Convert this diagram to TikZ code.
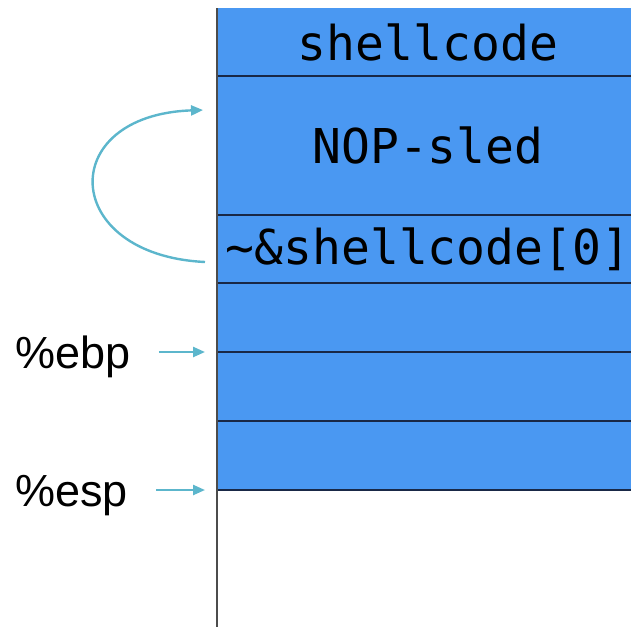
\documentclass[tikz,border=0pt]{standalone}
\usepackage{fontspec}
\setmainfont{Liberation Sans}
\newfontfamily\stackfont{DejaVu Sans Mono}
\usetikzlibrary{arrows.meta, positioning}

\definecolor{stackblue}{RGB}{74,152,242}
\definecolor{ptrcyan}{RGB}{92,182,204}
\definecolor{sepline}{RGB}{25,40,70}

\begin{document}
\begin{tikzpicture}[
    x=0.5pt, y=-0.5pt,
    node distance=0pt,
    cell/.style={rectangle, fill=stackblue, inner sep=0pt, outer sep=0pt, minimum width=211pt, font=\stackfont\fontsize{24}{24}\selectfont},
    sep/.style={draw=sepline, line width=1pt},
    reg/.style={anchor=base west, inner sep=0pt, font=\fontsize{22.5}{22.5}\selectfont},
    ptr/.style={-{Triangle[length=6pt, width=5pt]}, draw=ptrcyan, line width=1.2pt}
  ]

    \clip (0,0) rectangle (631,627);

    % stack cells, top to bottom
    \node[cell, minimum height=34pt, anchor=north west] (shell) at (217,8) {shellcode};
    \node[cell, minimum height=69.5pt, below=of shell] (nop) {NOP-sled};
    \node[cell, minimum height=34pt, below=of nop] (ret) {\textasciitilde\&shellcode[0]};
    \node[cell, minimum height=34.5pt, below=of ret] (slotA) {};
    \node[cell, minimum height=34.5pt, below=of slotA] (slotB) {};
    \node[cell, minimum height=34.5pt, below=of slotB] (slotC) {};

    % separators between the cells
    \foreach \c in {shell, nop, ret, slotA, slotB, slotC}
      \draw[sep] (\c.south west) -- (\c.south east);

    % left edge of the stack
    \draw[draw=black!70, line width=0.9pt] (217,8) -- (217,627);

    % registers
    \node[reg] (ebp) at (15,368) {\%ebp};
    \node[reg] (esp) at (15,506) {\%esp};
    \coordinate (ebphead) at (205,352);
    \coordinate (esphead) at (205,490);
    \draw[ptr] ([xshift=14pt]ebp.east |- ebphead) -- (ebphead);
    \draw[ptr] ([xshift=14pt]esp.east |- esphead) -- (esphead);

    % return address jumps back into the sled
    \coordinate (jmpfrom) at (205,262);
    \coordinate (jmpto) at (203,110);
    \draw[ptr] (jmpfrom) .. controls (60,255) and (55,115) .. (jmpto);

  \end{tikzpicture}
\end{document}
